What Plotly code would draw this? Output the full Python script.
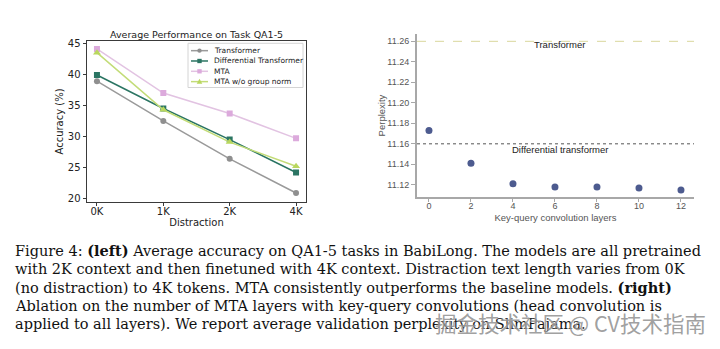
import plotly.graph_objects as go

# ---------------- data ----------------
distraction_labels = ["0K", "1K", "2K", "4K"]
series_names = ["Transformer", "Differential Transformer", "MTA", "MTA w/o group norm"]
acc_transformer = [38.9, 32.5, 26.4, 20.9]
acc_diff_transformer = [39.9, 34.5, 29.5, 24.2]
acc_mta = [44.1, 37.0, 33.7, 29.7]
acc_mta_no_gn = [43.5, 34.3, 29.1, 25.2]
acc_ticks = [20, 25, 30, 35, 40, 45]

kq_layers = [0, 2, 4, 6, 8, 10, 12]
perplexity = [11.173, 11.141, 11.121, 11.118, 11.118, 11.117, 11.115]
ppl_ticks = [11.12, 11.14, 11.16, 11.18, 11.20, 11.22, 11.24, 11.26]
baseline_names = ["Transformer", "Differential transformer"]
baseline_ppl = [11.26, 11.16]

left_title = "Average Performance on Task QA1-5"
caption_lines = [
    "Figure 4: <b>(left)</b> Average accuracy on QA1-5 tasks in BabiLong. The models are all pretrained",
    "with 2K context and then finetuned with 4K context. Distraction text length varies from 0K",
    "(no distraction) to 4K tokens. MTA consistently outperforms the baseline models. <b>(right)</b>",
    "Ablation on the number of MTA layers with key-query convolutions (head convolution is",
    "applied to all layers). We report average validation perplexity on SlimPajama.",
]
watermark = "掘金技术社区 @ CV技术指南"

# ---------------- styles ----------------
W, H = 720, 349
def px(x):
    return x / W
def py(y):
    return 1 - y / H

colors = ["#8f8f8f", "#2b7563", "#dcaadc", "#b9d75e"]
line_colors = ["#9a9a9a", "#2b7563", "#e2c3e2", "#c3dc78"]
symbols = ["circle", "square", "square", "triangle-up"]
acc_series = [acc_transformer, acc_diff_transformer, acc_mta, acc_mta_no_gn]
xpos = list(range(len(distraction_labels)))

fig = go.Figure()

for name, vals, c, lc, sym in zip(series_names, acc_series, colors, line_colors, symbols):
    fig.add_trace(go.Scatter(
        x=xpos, y=vals, name=name, mode="lines+markers",
        line=dict(color=lc, width=1.5),
        marker=dict(color=c, symbol=sym, size=6 if sym != "triangle-up" else 7),
        xaxis="x", yaxis="y", showlegend=False,
    ))

fig.add_trace(go.Scatter(
    x=kq_layers, y=perplexity, mode="markers", name="MTA",
    marker=dict(color="#4d5b8f", size=7),
    xaxis="x2", yaxis="y2", showlegend=False,
))

sans_mpl = "DejaVu Sans"
sans_r = "Liberation Sans, Arial"

fig.update_layout(
    width=W, height=H, margin=dict(l=0, r=0, t=0, b=0),
    paper_bgcolor="white", plot_bgcolor="white",
    showlegend=False,
    xaxis=dict(
        domain=[px(87), px(306)], range=[-0.15, 3.15],
        tickvals=xpos, ticktext=distraction_labels,
        showline=True, mirror=True, linecolor="#3a3a3a", linewidth=1,
        ticks="outside", ticklen=3.5, tickcolor="#3a3a3a", showgrid=False, zeroline=False,
        ticklabelstandoff=-3,
        tickfont=dict(family=sans_mpl, size=10, color="#222"),
        title=dict(text="Distraction", font=dict(family=sans_mpl, size=10, color="#222"), standoff=1),
        anchor="y",
    ),
    yaxis=dict(
        domain=[py(202), py(39)], range=[19.53, 45.32],
        tickvals=acc_ticks,
        showline=True, mirror=True, linecolor="#3a3a3a", linewidth=1,
        ticks="outside", ticklen=3.5, tickcolor="#3a3a3a", showgrid=False, zeroline=False,
        tickfont=dict(family=sans_mpl, size=10, color="#222"),
        title=dict(text="Accuracy (%)", font=dict(family=sans_mpl, size=10, color="#222"), standoff=2),
        anchor="x",
    ),
    xaxis2=dict(
        domain=[px(417), px(694)], range=[-0.57, 12.62],
        tickvals=kq_layers,
        showline=True, mirror=False, linecolor="#a8a8a8", linewidth=1.5,
        ticks="outside", ticklen=4, tickcolor="#a8a8a8", showgrid=False, zeroline=False,
        ticklabelstandoff=-4,
        tickfont=dict(family=sans_r, size=9, color="#555"),
        title=dict(text="Key-query convolution layers", font=dict(family=sans_r, size=9.5, color="#555"), standoff=4),
        anchor="y2",
    ),
    yaxis2=dict(
        domain=[py(197), py(32)], range=[11.1085, 11.2667],
        tickvals=ppl_ticks, tickformat=".2f",
        showline=True, mirror=False, linecolor="#a8a8a8", linewidth=2,
        ticks="outside", ticklen=4, tickcolor="#a8a8a8", showgrid=False, zeroline=False,
        tickfont=dict(family=sans_r, size=9, color="#555"),
        title=dict(text="Perplexity", font=dict(family=sans_r, size=9.5, color="#555"), standoff=0),
        anchor="x2",
    ),
)

shapes = []
annotations = []

# baseline reference lines (right)
dash_styles = [dict(color="#d9d79c", width=1, dash="dash"), dict(color="#555", width=1, dash="dot")]
label_shift = [-3, -6]
for name, val, ds, sh in zip(baseline_names, baseline_ppl, dash_styles, label_shift):
    shapes.append(dict(type="line", xref="x2 domain", yref="y2", x0=0, x1=1, y0=val, y1=val,
                       line=ds, layer="below"))
    annotations.append(dict(text=name, xref="x2 domain", yref="y2", x=0.515, y=val, yshift=sh,
                            yanchor="middle", showarrow=False,
                            font=dict(family=sans_r, size=9.5, color="#222")))

# left title
annotations.append(dict(text=left_title, xref="paper", yref="paper", x=px(196.5), y=py(32),
                        xanchor="center", yanchor="middle", showarrow=False,
                        font=dict(family=sans_mpl, size=9.5, color="#222")))

# manual legend (matplotlib-like compact box)
lg_x0, lg_x1, lg_y0, lg_y1 = 188, 303, 41, 86
shapes.append(dict(type="rect", xref="paper", yref="paper", x0=px(lg_x0), x1=px(lg_x1),
                   y0=py(lg_y1), y1=py(lg_y0), line=dict(color="#d4d4d4", width=1),
                   fillcolor="rgba(255,255,255,0.85)", layer="above"))
entry_y = [48.5, 59.0, 69.5, 80.0]
for name, c, lc, sym, ey in zip(series_names, colors, line_colors, symbols, entry_y):
    shapes.append(dict(type="line", xref="paper", yref="paper", x0=px(191), x1=px(208),
                       y0=py(ey), y1=py(ey), line=dict(color=lc, width=1.5), layer="above"))
    cx, r = 199.5, 2.2
    if sym == "circle":
        shapes.append(dict(type="circle", xref="paper", yref="paper", x0=px(cx - r), x1=px(cx + r),
                           y0=py(ey + r), y1=py(ey - r), fillcolor=c, line=dict(width=0), layer="above"))
    elif sym == "square":
        shapes.append(dict(type="rect", xref="paper", yref="paper", x0=px(cx - r), x1=px(cx + r),
                           y0=py(ey + r), y1=py(ey - r), fillcolor=c, line=dict(width=0), layer="above"))
    else:
        path = "M {:.5f},{:.5f} L {:.5f},{:.5f} L {:.5f},{:.5f} Z".format(
            px(cx), py(ey - 2.8), px(cx - 2.8), py(ey + 2.2), px(cx + 2.8), py(ey + 2.2))
        shapes.append(dict(type="path", xref="paper", yref="paper", path=path, fillcolor=c,
                           line=dict(width=0), layer="above"))
    annotations.append(dict(text=name, xref="paper", yref="paper", x=px(212), y=py(ey),
                            xanchor="left", yanchor="middle", showarrow=False,
                            font=dict(family=sans_mpl, size=7.5, color="#222")))

# caption
cap_y = [252, 270.5, 289.5, 308, 327]
for line, yy in zip(caption_lines, cap_y):
    annotations.append(dict(text=line, xref="paper", yref="paper", x=px(13), y=py(yy),
                            xanchor="left", yanchor="middle", showarrow=False,
                            font=dict(family="DejaVu Serif, serif", size=14.5, color="#111")))

# watermark
annotations.append(dict(text=watermark, xref="paper", yref="paper", x=px(708), y=py(325),
                        xanchor="right", yanchor="middle", showarrow=False,
                        font=dict(family="Noto Sans CJK SC", size=21.5, color="rgba(135,135,135,0.8)",
                                  shadow="0px 0px 2px white")))

fig.update_layout(shapes=shapes, annotations=annotations)
fig.write_html("out.html")
